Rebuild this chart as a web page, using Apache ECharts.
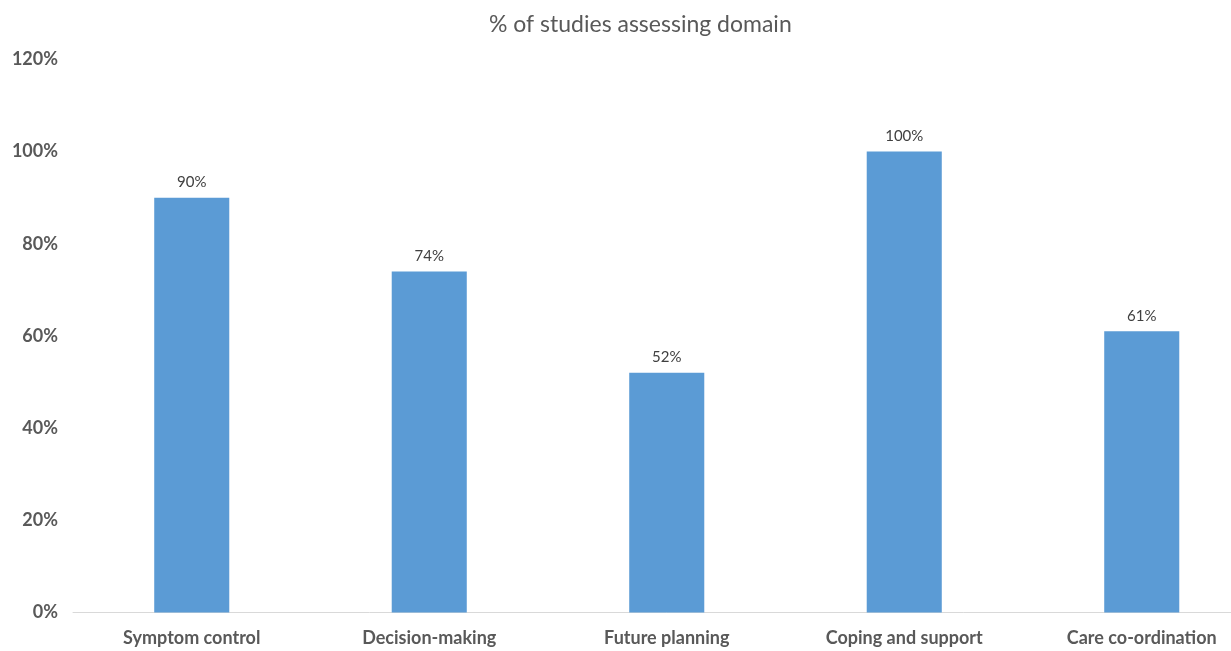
<!DOCTYPE html>
<html>
<head>
<meta charset="utf-8">
<script src="https://cdn.jsdelivr.net/npm/echarts@6/dist/echarts.min.js"></script>
<style>
  html, body { margin: 0; padding: 0; background: #ffffff; overflow: hidden; }
  /* the plot area is a little wider than the window, so the last label runs off the edge */
  #chart { width: 1261px; height: 651px; }
</style>
</head>
<body>
<div id="chart"></div>
<script>
// Domains assessed and share of studies covering each one
const categories = ['Symptom control', 'Decision-making', 'Future planning', 'Coping and support', 'Care co-ordination'];
const percentValues = [90, 74, 52, 100, 61];
const yTicks = [0, 20, 40, 60, 80, 100, 120];

const chart = echarts.init(document.getElementById('chart'));
chart.setOption({
  animation: false,
  title: {
    text: '% of studies assessing domain',
    left: 484,
    top: 8,
    textStyle: { fontFamily: 'Lato', fontSize: 23, fontWeight: 'normal', color: '#595959' }
  },
  grid: { left: 73, right: 0.5, top: 59.4, bottom: 38.5, containLabel: false },
  xAxis: {
    type: 'category',
    data: categories,
    axisLine: { lineStyle: { color: '#d9d9d9', width: 1 } },
    axisTick: { show: false },
    axisLabel: {
      fontFamily: 'Lato', fontSize: 18, fontWeight: 'bold', color: '#595959', margin: 17,
      interval: 0
    }
  },
  yAxis: {
    type: 'value',
    min: yTicks[0],
    max: yTicks[yTicks.length - 1],
    interval: 20,
    axisLine: { show: false },
    axisTick: { show: false },
    splitLine: { show: false },
    axisLabel: {
      fontFamily: 'Lato', fontSize: 18, fontWeight: 'bold', color: '#595959', margin: 15,
      formatter: v => v + '%'
    }
  },
  series: [{
    type: 'bar',
    data: percentValues,
    barWidth: '31.6%',
    itemStyle: { color: '#5b9bd5' },
    label: {
      show: true,
      position: 'top',
      distance: 8,
      fontFamily: 'Lato', fontSize: 15, color: '#404040',
      formatter: p => p.value + '%'
    }
  }]
});
</script>
</body>
</html>
